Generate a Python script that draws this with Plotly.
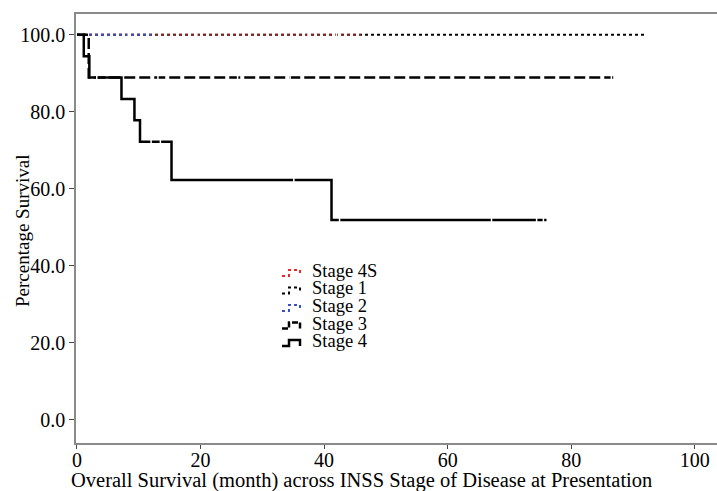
import plotly.graph_objects as go

# ---- data ----
stage4s_t = [0, 46]
stage4s_s = [100, 100]

stage1_t = [0, 91.9]
stage1_s = [100, 100]

stage2_t = [0, 12.1]
stage2_s = [100, 100]

stage3_t = [0, 1.9, 86.8]
stage3_s = [100, 88.9, 88.9]

stage4_t = [0, 1.1, 2.0, 7.2, 9.3, 10.2, 15.3, 41.2, 76.0]
stage4_s = [100, 94.4, 88.9, 83.3, 77.8, 72.2, 62.3, 51.9, 51.9]

# censored observations (white tick marks)
cens_top_t = [8.3, 19.4, 37.4, 42.0]
cens_top_s = [100, 100, 100, 100]
cens3_t = [3.2, 13.1, 26.0, 34.5, 86.5]
cens3_s = [88.9, 88.9, 88.9, 88.9, 88.9]
cens4_t = [12.0, 13.5, 35.1, 42.5, 67.1, 74.4, 75.5]
cens4_s = [72.2, 72.2, 62.3, 51.9, 51.9, 51.9, 51.9]

legend_names = ["Stage 4S", "Stage 1", "Stage 2", "Stage 3", "Stage 4"]
legend_colors = ["#e8262b", "black", "#3a4fc0", "black", "black"]
legend_dash = ["dot", "dot", "dot", "6px,2px", "solid"]

y_tickvals = [0, 20, 40, 60, 80, 100]
y_ticktext = ["0.0", "20.0", "40.0", "60.0", "80.0", "100.0"]
x_tickvals = [0, 20, 40, 60, 80, 100]

FONT = "Liberation Serif, Times New Roman, serif"

# plot-area geometry in pixels (for placing legend/titles)
W, H = 717, 491
L, R, T, B = 76, 0, 14, 48
PW, PH = W - L - R, H - T - B


def px(xp):
    return (xp - L) / PW


def py(yp):
    return (H - B - yp) / PH


fig = go.Figure()

fig.add_trace(go.Scatter(x=stage1_t, y=stage1_s, mode="lines", line_shape="hv",
                         line=dict(color="black", width=2, dash="dot"), name="Stage 1"))
fig.add_trace(go.Scatter(x=stage4s_t, y=stage4s_s, mode="lines", line_shape="hv",
                         line=dict(color="rgba(200,40,40,0.7)", width=2, dash="dot"), name="Stage 4S"))
fig.add_trace(go.Scatter(x=stage2_t, y=stage2_s, mode="lines", line_shape="hv",
                         line=dict(color="#3a4fc0", width=2, dash="dot"), name="Stage 2"))
fig.add_trace(go.Scatter(x=stage3_t, y=stage3_s, mode="lines", line_shape="hv",
                         line=dict(color="black", width=2.5, dash="11px,4px"), name="Stage 3"))
fig.add_trace(go.Scatter(x=stage4_t, y=stage4_s, mode="lines", line_shape="hv",
                         line=dict(color="black", width=2.5), name="Stage 4"))

for ct, cs in [(cens_top_t, cens_top_s), (cens3_t, cens3_s), (cens4_t, cens4_s)]:
    fig.add_trace(go.Scatter(x=ct, y=cs, mode="markers", showlegend=False, hoverinfo="skip",
                             marker=dict(symbol="line-ns", size=5, color="white",
                                         line=dict(color="white", width=1.5))))

# custom legend (step-shaped icons + text), as in the reference
leg_x0, leg_base0, leg_step = 282, 277, 17.5
for i, (name, col, dash) in enumerate(zip(legend_names, legend_colors, legend_dash)):
    base = leg_base0 + i * leg_step
    lo, hi = base - 1, base - 7
    x0, x1, x2 = leg_x0, leg_x0 + 7, leg_x0 + 18
    w = 2.5 if i >= 3 else 2
    path = (f"M {px(x0)},{py(lo)} L {px(x1)},{py(lo)} L {px(x1)},{py(hi)} "
            f"L {px(x2)},{py(hi)} L {px(x2)},{py(lo)}")
    fig.add_shape(type="path", path=path, xref="paper", yref="paper",
                  line=dict(color=col, width=w, dash=dash))
    fig.add_annotation(text=name, xref="paper", yref="paper", x=px(310), y=py(base - 6),
                       xanchor="left", yanchor="middle", showarrow=False,
                       font=dict(family=FONT, size=18.5, color="black"))

fig.add_annotation(text="Overall Survival (month) across INSS Stage of Disease at Presentation",
                   xref="paper", yref="paper", x=px(361.5), y=py(481), showarrow=False,
                   xanchor="center", yanchor="middle",
                   font=dict(family=FONT, size=20.5, color="black"))
fig.add_annotation(text="Percentage Survival", textangle=-90,
                   xref="paper", yref="paper", x=px(22), y=py(231), showarrow=False,
                   xanchor="center", yanchor="middle",
                   font=dict(family=FONT, size=19, color="black"))

fig.update_layout(
    width=W, height=H,
    margin=dict(l=L, r=R, t=T, b=B),
    paper_bgcolor="white", plot_bgcolor="white",
    font=dict(family=FONT, size=20, color="black"),
    showlegend=False,
)
fig.update_xaxes(range=[-0.16, 103.6], tickvals=x_tickvals, showgrid=False, zeroline=False,
                 showline=True, linecolor="#8a8a8a", linewidth=1.5, mirror=True,
                 ticks="outside", ticklen=4, tickcolor="#444", tickwidth=1.2,
                 ticklabelstandoff=-6,
                 tickfont=dict(family=FONT, size=20))
fig.update_yaxes(range=[-6.0, 105.4], tickvals=y_tickvals, ticktext=y_ticktext, showgrid=False,
                 zeroline=False, showline=True, linecolor="#8a8a8a", linewidth=1.5,
                 ticks="outside", ticklen=5, tickcolor="#444", tickwidth=1.2,
                 tickfont=dict(family=FONT, size=20))

fig.write_html("out.html", config={"displayModeBar": False},
               post_script="document.body.style.margin='0';document.body.style.overflow='hidden';")
